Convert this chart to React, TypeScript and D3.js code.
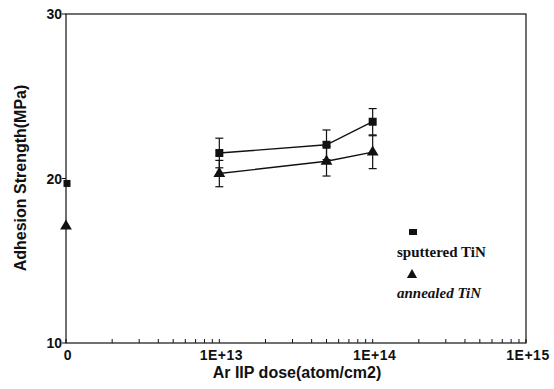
import React, { useEffect, useRef } from 'react';
import * as d3 from 'd3';

// x = 1e12 stands in for the "0" dose (first decade is labelled 0)
const doses = [1e13, 5e13, 1e14];
const sputtered = [21.55, 22.05, 23.45];
const sputteredErr = [0.9, 0.9, 0.8];
const annealed = [20.3, 21.05, 21.6];
const annealedErr = [0.8, 0.9, 1.0];
const zeroSputtered = 19.7;
const zeroAnnealed = 17.1;
const xTickLabels = [
  { v: 1e12, t: '0' },
  { v: 1e13, t: '1E+13' },
  { v: 1e14, t: '1E+14' },
  { v: 1e15, t: '1E+15' },
];
const yTicks = [10, 20, 30];

const App: React.FC = () => {
  const svgRef = useRef<SVGSVGElement>(null);

  useEffect(() => {
    if (!svgRef.current) return;
    const svg = d3.select(svgRef.current);
    svg.selectAll('*').remove();

    const left = 66, right = 526, top = 14, bottom = 343;
    const x = d3.scaleLog().domain([1e12, 1e15]).range([left, right]);
    const y = d3.scaleLinear().domain([10, 30]).range([bottom, top]);
    const sans = 'Liberation Sans, Arial, sans-serif';
    const serif = 'Liberation Serif, Times New Roman, serif';

    // frame
    svg.append('rect')
      .attr('x', left).attr('y', top)
      .attr('width', right - left).attr('height', bottom - top)
      .attr('fill', 'none').attr('stroke', '#111').attr('stroke-width', 1.2);

    // x ticks (log minor ticks, pointing up)
    svg.selectAll('.xt')
      .data(x.ticks())
      .enter().append('line')
      .attr('x1', d => x(d)).attr('x2', d => x(d))
      .attr('y1', bottom).attr('y2', bottom - 4)
      .attr('stroke', '#111').attr('stroke-width', 1);

    svg.selectAll('.xl')
      .data(xTickLabels)
      .enter().append('text')
      .attr('x', d => x(d.v) + 2).attr('y', 360)
      .attr('text-anchor', 'middle')
      .attr('font-family', sans).attr('font-weight', 'bold').attr('font-size', 14)
      .attr('letter-spacing', 0.5)
      .attr('fill', '#111')
      .text(d => d.t);

    // y ticks
    svg.selectAll('.yt')
      .data(yTicks)
      .enter().append('line')
      .attr('x1', left - 4).attr('x2', left)
      .attr('y1', d => y(d)).attr('y2', d => y(d))
      .attr('stroke', '#111');

    svg.selectAll('.yl')
      .data(yTicks)
      .enter().append('text')
      .attr('x', left - 4).attr('y', d => y(d) + 5)
      .attr('text-anchor', 'end')
      .attr('font-family', sans).attr('font-weight', 'bold').attr('font-size', 14)
      .attr('fill', '#111')
      .text(d => d);

    // axis titles
    svg.append('text')
      .attr('x', 297).attr('y', 378)
      .attr('text-anchor', 'middle')
      .attr('font-family', sans).attr('font-weight', 'bold').attr('font-size', 16)
      .attr('fill', '#111')
      .text('Ar IIP dose(atom/cm2)');

    svg.append('text')
      .attr('transform', 'translate(26,178) rotate(-90)')
      .attr('text-anchor', 'middle')
      .attr('font-family', sans).attr('font-weight', 'bold').attr('font-size', 16)
      .attr('fill', '#111')
      .text('Adhesion Strength(MPa)');

    const line = d3.line<number>()
      .x((_, i) => x(doses[i]))
      .y(d => y(d));

    const square = d3.symbol().type(d3.symbolSquare).size(64);
    const triangle = d3.symbol().type(d3.symbolTriangle).size(60);

    const drawSeries = (vals: number[], errs: number[], sym: any) => {
      svg.append('path')
        .attr('d', line(vals) as string)
        .attr('fill', 'none').attr('stroke', '#111').attr('stroke-width', 1.4);
      vals.forEach((v, i) => {
        const cx = x(doses[i]);
        const y1 = y(v + errs[i]);
        const y2 = y(v - errs[i]);
        svg.append('line').attr('x1', cx).attr('x2', cx).attr('y1', y1).attr('y2', y2)
          .attr('stroke', '#111').attr('stroke-width', 1.2);
        [y1, y2].forEach(yy => {
          svg.append('line').attr('x1', cx - 4).attr('x2', cx + 4).attr('y1', yy).attr('y2', yy)
            .attr('stroke', '#111').attr('stroke-width', 1.2);
        });
        svg.append('path').attr('d', sym() as string)
          .attr('transform', `translate(${cx},${y(v)})`).attr('fill', '#111');
      });
    };

    drawSeries(sputtered, sputteredErr, square);
    drawSeries(annealed, annealedErr, triangle);

    // points at zero dose
    svg.append('path').attr('d', square.size(49)() as string)
      .attr('transform', `translate(${x(1e12) + 1},${y(zeroSputtered)})`).attr('fill', '#111');
    svg.append('path').attr('d', triangle.size(60)() as string)
      .attr('transform', `translate(${x(1e12)},${y(zeroAnnealed)})`).attr('fill', '#111');

    // legend
    svg.append('rect').attr('x', 409).attr('y', 229).attr('width', 8).attr('height', 6).attr('fill', '#111');
    svg.append('text').attr('x', 397).attr('y', 257)
      .attr('font-family', serif).attr('font-weight', 'bold').attr('font-size', 15)
      .attr('fill', '#111').text('sputtered TiN');
    svg.append('path').attr('d', d3.symbol().type(d3.symbolTriangle).size(45)() as string)
      .attr('transform', 'translate(412,275)').attr('fill', '#111');
    svg.append('text').attr('x', 397).attr('y', 298)
      .attr('font-family', serif).attr('font-weight', 'bold').attr('font-style', 'italic').attr('font-size', 15)
      .attr('fill', '#111').text('annealed TiN');
  }, []);

  return (
    <div style={{ position: 'absolute', left: 0, top: 0 }}>
      <svg ref={svgRef} width={554} height={389} style={{ display: 'block', background: '#fff' }} />
    </div>
  );
};

export default App;
